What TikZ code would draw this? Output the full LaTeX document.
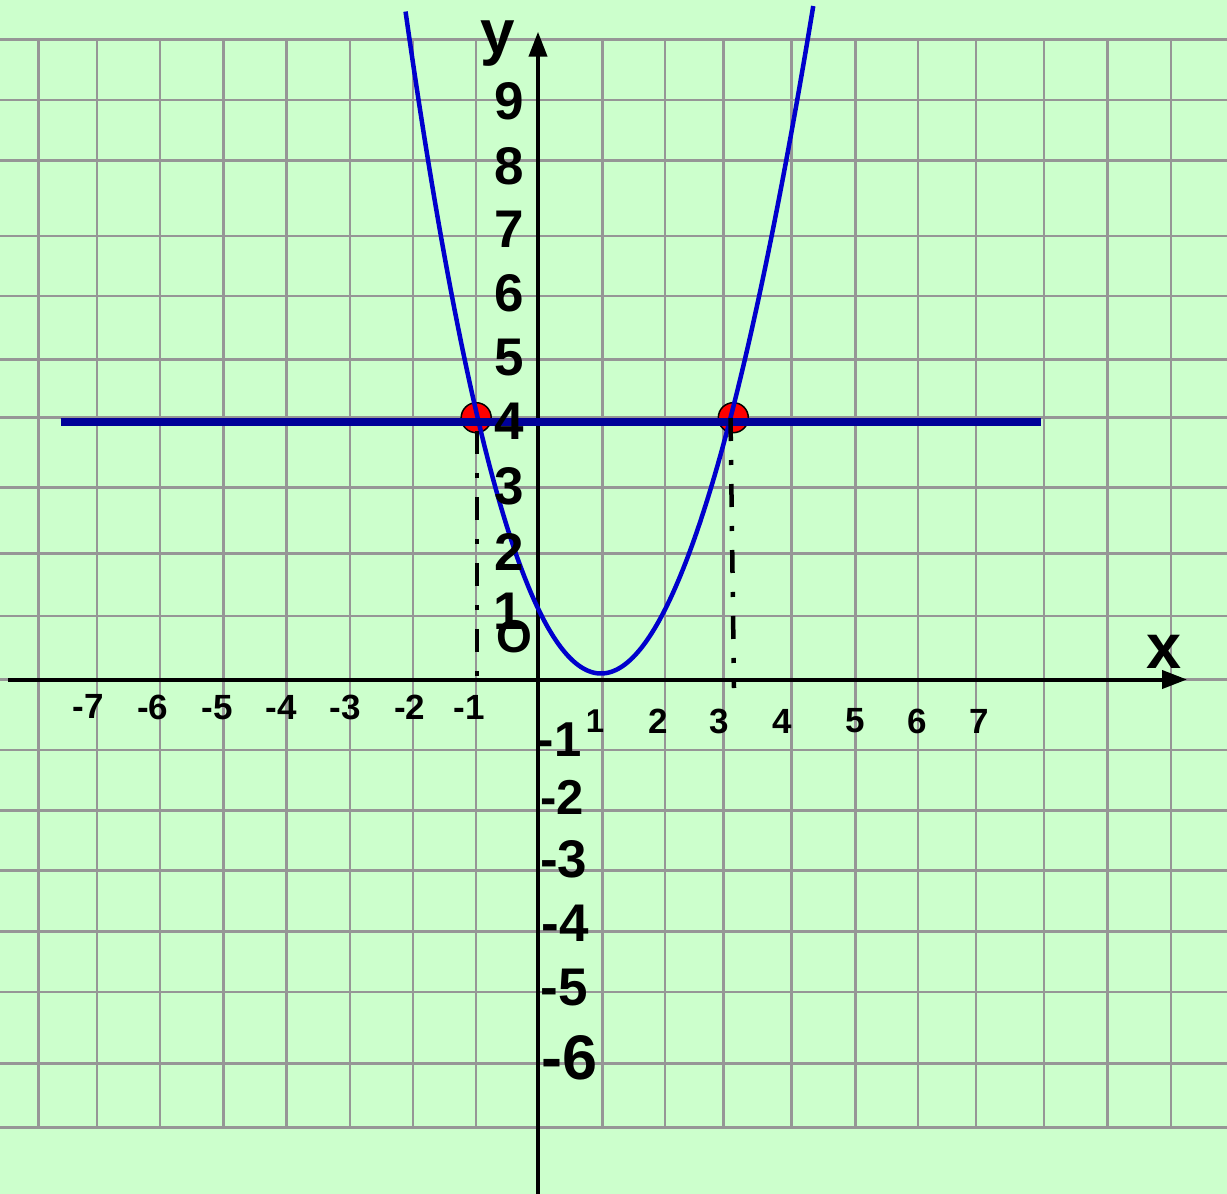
\documentclass[tikz,border=0pt]{standalone}
\usepackage{fontspec}
\setmainfont{Liberation Sans}
\usetikzlibrary{arrows.meta}
\definecolor{bg}{RGB}{204,255,204}
\definecolor{gridc}{RGB}{150,150,150}
\definecolor{curveblue}{RGB}{0,0,204}
\definecolor{lineblue}{RGB}{0,0,153}
\begin{document}
\begin{tikzpicture}[x=1pt,y=-1pt,
  gridline/.style={draw=gridc,line width=2.6pt},
  axisline/.style={draw=black,line width=4pt,-{Triangle[length=25pt,width=18pt]}},
  dotmark/.style={circle,fill=red,draw=black,line width=1.5pt,minimum size=30pt,inner sep=0pt},
  curveline/.style={draw=curveblue,line width=4.5pt},
  hline/.style={draw=lineblue,line width=7.5pt},
  dashdotline/.style={draw=black,line width=4.5pt,dash pattern=on 23pt off 19pt on 5pt off 19pt},
  lab/.style={inner sep=0pt,font=\bfseries\fontsize{#1}{#1}\selectfont},
  lab/.default=53]
\useasboundingbox (0,0) rectangle (1227,1194);
\fill[bg] (0,0) rectangle (1227,1194);
% grid
\foreach \gx in {38.7,97,160,223.4,286.7,350,413,476,537.8,602.7,665,723.2,791.2,855.2,918,976,1044,1107.2,1170.8}
  \draw[gridline] (\gx,39.3) -- (\gx,1127.7);
\foreach \gy in {39.3,100,160.7,236,296,359.3,417.3,487.5,553.3,616,679.5,750,810.7,870.7,931.7,992,1063.7,1127.7}
  \draw[gridline] (0,\gy) -- (1227,\gy);
% axes
\coordinate (xs) at (8.3,679.5);
\coordinate (xe) at (1187,679.5);
\coordinate (ys) at (538,1194);
\coordinate (ye) at (538,31.7);
\draw[axisline] (xs) -- (xe);
\draw[axisline] (ys) -- (ye);
% intersection points
\node[dotmark] (p1) at (476.2,417.7) {};
\node[dotmark] (p2) at (733.3,417.7) {};
% parabola
\draw[curveline] plot[domain=-2.034:2.044,samples=150,smooth,variable=\t]
  ({601+100*\t+1.92*\t*\t},{673.5-160*\t*\t});
% horizontal line y=4
\coordinate (hl) at (60.5,422);
\coordinate (hr) at (1041,422);
\draw[hline] (hl) -- (hr);
% dash-dot projections
\coordinate (d1t) at (477,431);
\coordinate (d1b) at (477,680);
\coordinate (d2t) at (730.5,418);
\coordinate (d2b) at (734,688);
\draw[dashdotline] (d1t) -- (d1b);
\draw[dashdotline] (d2t) -- (d2b);
% axis names
\node[lab=62] (ylab) at (498,43.7) {y};
\node[lab=63] (xlab) at (1164,651.5) {x};
% y labels
\node[lab] (y9) at (509.6,101.7) {9};
\node[lab] (y8) at (509.6,165.8) {8};
\node[lab] (y7) at (509.6,229.5) {7};
\node[lab] (y6) at (509.6,293.7) {6};
\node[lab] (y5) at (509.6,357.5) {5};
\node[lab] (y4) at (509.7,420.8) {4};
\node[lab] (y3) at (509,486.7) {3};
\node[lab] (y2) at (509,552) {2};
\node[lab] (y1) at (508.5,610.8) {1};
\node[lab=46] (orig) at (514.8,636.7) {O};
\node[lab=49] (ym1) at (559.7,739.2) {-1};
\node[lab=49] (ym2) at (562,797.5) {-2};
\node[lab] (ym3) at (563.9,859.2) {-3};
\node[lab] (ym4) at (565.2,922.8) {-4};
\node[lab] (ym5) at (564.3,987.2) {-5};
\node[lab=63] (ym6) at (569.8,1057.5) {-6};
% x labels
\node[lab=35] (xm7) at (88,706.8) {-7};
\node[lab=35] (xm6) at (152.8,707.5) {-6};
\node[lab=35] (xm5) at (217,707.5) {-5};
\node[lab=35] (xm4) at (281,707.5) {-4};
\node[lab=35] (xm3) at (345.4,707.5) {-3};
\node[lab=35] (xm2) at (409.7,707.5) {-2};
\node[lab=35] (xm1) at (469,707.5) {-1};
\node[lab=33] (x1) at (595,721) {1};
\node[lab=35] (x2) at (658.4,721) {2};
\node[lab=35] (x3) at (719.4,721) {3};
\node[lab=35] (x4) at (782,721) {4};
\node[lab=35] (x5) at (855.4,721) {5};
\node[lab=35] (x6) at (917,721) {6};
\node[lab=35] (x7) at (979,721) {7};
\end{tikzpicture}
\end{document}
